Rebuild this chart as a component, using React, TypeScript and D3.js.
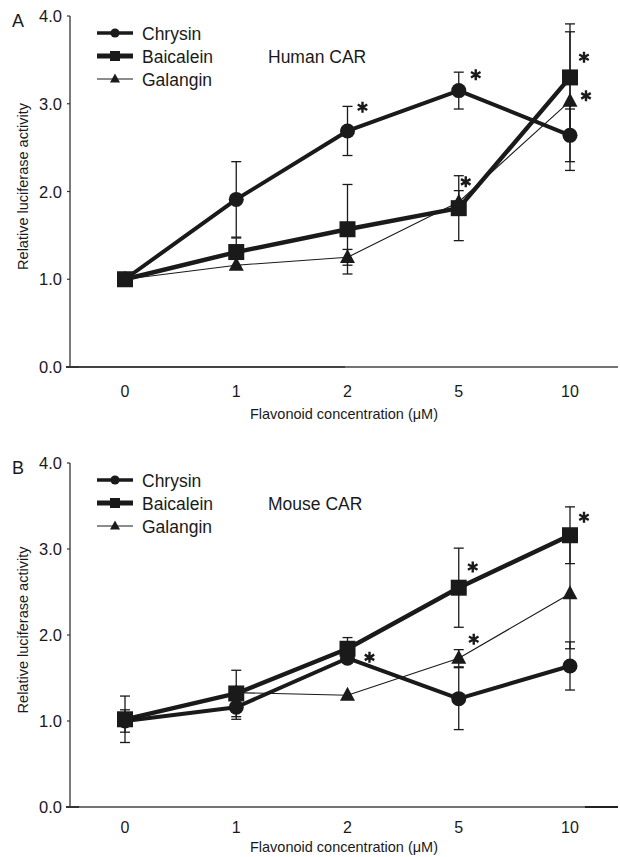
import React, { useRef, useEffect } from 'react';
import * as d3 from 'd3';

// doses on the x axis (categorical)
const doses = ['0', '1', '2', '5', '10'];
const yTicks = [0, 1, 2, 3, 4];
const seriesNames = ['Chrysin', 'Baicalein', 'Galangin'];

// A: human CAR
const humanChrysin = [1.0, 1.91, 2.69, 3.15, 2.64];
const humanChrysinErr = [0, 0.43, 0.28, 0.21, 0.3];
const humanBaicalein = [1.0, 1.31, 1.57, 1.81, 3.3];
const humanBaicaleinErr = [0, 0.16, 0.51, 0.37, 0.61];
const humanGalangin = [1.0, 1.16, 1.25, 1.88, 3.03];
const humanGalanginErr = [0, 0, 0.09, 0.13, 0.79];
// significance marks: [series, dose index, y value, x offset px]
const humanStars = [
  ['Chrysin', 2, 2.96, 15],
  ['Chrysin', 3, 3.33, 17],
  ['Galangin', 3, 2.11, 7],
  ['Baicalein', 4, 3.53, 14],
  ['Galangin', 4, 3.09, 16],
];

// B: mouse CAR
const mouseChrysin = [1.0, 1.16, 1.73, 1.26, 1.64];
const mouseChrysinErr = [0.13, 0.14, 0, 0.36, 0.28];
const mouseBaicalein = [1.02, 1.32, 1.84, 2.55, 3.16];
const mouseBaicaleinErr = [0.27, 0.27, 0.13, 0.46, 0.33];
const mouseGalangin = [1.0, 1.33, 1.3, 1.73, 2.48];
const mouseGalanginErr = [0, 0, 0, 0.1, 0.64];
const mouseStars = [
  ['Chrysin', 2, 1.74, 22],
  ['Baicalein', 3, 2.79, 14],
  ['Galangin', 3, 1.95, 15],
  ['Baicalein', 4, 3.37, 14],
];

const FONT = '"Liberation Sans", Arial, Helvetica, sans-serif';
const INK = '#1a1a1a';

const style: Record<string, { width: number; legendWidth: number }> = {
  Chrysin: { width: 4, legendWidth: 3.6 },
  Baicalein: { width: 4.4, legendWidth: 5 },
  Galangin: { width: 1.1, legendWidth: 1.1 },
};

function drawMarker(g: any, name: string, x: number, y: number, big: boolean) {
  if (name === 'Chrysin') {
    g.append('circle').attr('cx', x).attr('cy', y).attr('r', big ? 7.5 : 4.6).attr('fill', INK);
  } else if (name === 'Baicalein') {
    const s = big ? 16 : 10;
    g.append('rect').attr('x', x - s / 2).attr('y', y - s / 2).attr('width', s).attr('height', s).attr('fill', INK);
  } else {
    const w = big ? 15 : 10;
    const h = big ? 14 : 9;
    g.append('path')
      .attr('d', `M${x},${y - h * 0.6}L${x + w / 2},${y + h * 0.4}L${x - w / 2},${y + h * 0.4}Z`)
      .attr('fill', INK);
  }
}

function drawPanel(svg: any, opts: any) {
  const { letter, title, top, bottom, values, errors, stars, bottomArtifact, tickGap, titleGap } = opts;
  const x = d3.scalePoint<string>().domain(doses).range([125, 570]);
  const y = d3.scaleLinear().domain([0, 4]).range([bottom, top]);
  const g = svg.append('g');
  const axisX0 = 70;
  const axisX1 = 618;

  // axes
  g.append('line').attr('x1', axisX0).attr('x2', axisX0).attr('y1', y(4)).attr('y2', y(0))
    .attr('stroke', '#333').attr('stroke-width', 1.3);
  g.append('line').attr('x1', axisX0).attr('x2', axisX1).attr('y1', y(0)).attr('y2', y(0))
    .attr('stroke', '#444').attr('stroke-width', 1.3);
  if (bottomArtifact === 'right') {
    g.append('line').attr('x1', 585).attr('x2', axisX1).attr('y1', y(0)).attr('y2', y(0))
      .attr('stroke', '#222').attr('stroke-width', 2.2);
  } else {
    g.append('line').attr('x1', 70).attr('x2', 345).attr('y1', y(0)).attr('y2', y(0))
      .attr('stroke', '#333').attr('stroke-width', 1.5);
  }
  yTicks.forEach((t) => {
    g.append('line').attr('x1', axisX0 - (t === 0 ? 4 : 3)).attr('x2', axisX0 + (t === 0 ? 9 : 0))
      .attr('y1', y(t)).attr('y2', y(t)).attr('stroke', '#333').attr('stroke-width', t === 0 ? 2 : 1.2);
    g.append('text').attr('x', 62).attr('y', y(t) + 6).attr('text-anchor', 'end')
      .attr('font-size', 16.5).attr('font-family', FONT).attr('fill', INK).text(t.toFixed(1));
  });
  doses.forEach((d) => {
    g.append('text').attr('x', x(d)).attr('y', bottom + tickGap).attr('text-anchor', 'middle')
      .attr('font-size', 16).attr('font-family', FONT).attr('fill', INK).text(d);
  });
  g.append('text').attr('x', (axisX0 + axisX1) / 2).attr('y', bottom + titleGap).attr('text-anchor', 'middle')
    .attr('font-size', 14.5).attr('font-family', FONT).attr('fill', INK).text('Flavonoid concentration (μM)');
  const midY = (y(0) + y(4)) / 2 - 5;
  g.append('text').attr('transform', `translate(28,${midY}) rotate(-90)`).attr('text-anchor', 'middle')
    .attr('font-size', 14.5).attr('font-family', FONT).attr('fill', INK).text('Relative luciferase activity');
  g.append('text').attr('x', 12).attr('y', top + 11).attr('font-size', 18).attr('font-family', FONT)
    .attr('fill', INK).text(letter);

  // legend
  seriesNames.forEach((name, i) => {
    const ly = top + 17 + i * 23;
    g.append('line').attr('x1', 97).attr('x2', 133).attr('y1', ly).attr('y2', ly)
      .attr('stroke', INK).attr('stroke-width', style[name].legendWidth);
    drawMarker(g, name, 115, ly, false);
    g.append('text').attr('x', 142).attr('y', ly + 6.5).attr('font-size', 17.5).attr('font-family', FONT)
      .attr('fill', INK).text(name);
  });
  g.append('text').attr('x', 268).attr('y', top + 47).attr('font-size', 17.5).attr('font-family', FONT)
    .attr('fill', INK).text(title);

  // error bars
  seriesNames.forEach((name, s) => {
    values[s].forEach((v: number, i: number) => {
      const e = errors[s][i];
      if (!e) return;
      const cx = x(doses[i]) as number;
      g.append('line').attr('x1', cx).attr('x2', cx).attr('y1', y(v - e)).attr('y2', y(v + e))
        .attr('stroke', INK).attr('stroke-width', 1.3);
      [v - e, v + e].forEach((c) => {
        g.append('line').attr('x1', cx - 5).attr('x2', cx + 5).attr('y1', y(c)).attr('y2', y(c))
          .attr('stroke', INK).attr('stroke-width', 1.3);
      });
    });
  });

  // lines
  const line = d3.line<number>().x((_, i) => x(doses[i]) as number).y((v) => y(v));
  seriesNames.forEach((name, s) => {
    g.append('path').attr('d', line(values[s])).attr('fill', 'none').attr('stroke', INK)
      .attr('stroke-width', style[name].width).attr('stroke-linejoin', 'round');
  });
  seriesNames.forEach((name, s) => {
    values[s].forEach((v: number, i: number) => drawMarker(g, name, x(doses[i]) as number, y(v), true));
  });

  // significance marks
  const star = d3.symbol().type(d3.symbolAsterisk).size(85);
  stars.forEach(([, i, v, dx]: any) => {
    g.append('path').attr('d', star()).attr('transform', `translate(${(x(doses[i]) as number) + dx},${y(v)})`)
      .attr('fill', 'none').attr('stroke', INK).attr('stroke-width', 2.4);
  });
}

const App = () => {
  const ref = useRef<SVGSVGElement>(null);

  useEffect(() => {
    const svg = d3.select(ref.current);
    svg.selectAll('*').remove();
    drawPanel(svg, {
      letter: 'A', title: 'Human CAR', top: 16, bottom: 367,
      values: [humanChrysin, humanBaicalein, humanGalangin],
      errors: [humanChrysinErr, humanBaicaleinErr, humanGalanginErr],
      stars: humanStars, bottomArtifact: 'left', tickGap: 30, titleGap: 52,
    });
    drawPanel(svg, {
      letter: 'B', title: 'Mouse CAR', top: 463, bottom: 807,
      values: [mouseChrysin, mouseBaicalein, mouseGalangin],
      errors: [mouseChrysinErr, mouseBaicaleinErr, mouseGalanginErr],
      stars: mouseStars, bottomArtifact: 'right', tickGap: 26, titleGap: 45,
    });
  }, []);

  return (
    <svg ref={ref} width={620} height={857}
      style={{ position: 'absolute', left: 0, top: 0, background: '#fff' }} />
  );
};

export default App;
